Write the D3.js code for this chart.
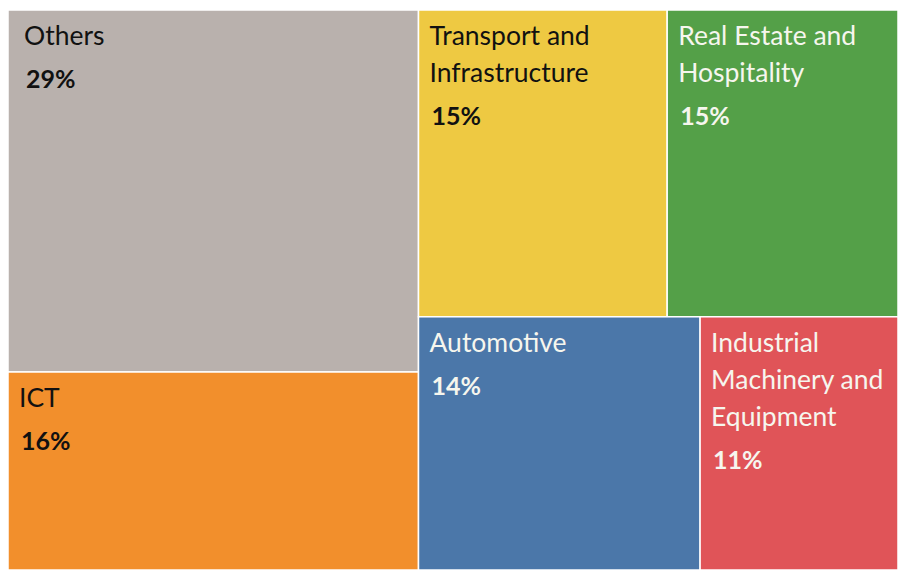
<!DOCTYPE html>
<html>
<head>
<meta charset="utf-8">
<script src="https://cdn.jsdelivr.net/npm/d3@7"></script>
<style>
  body { margin: 0; background: #fff; }
  svg { display: block; font-family: Lato, "Open Sans", sans-serif; }
</style>
</head>
<body>
<svg id="chart" width="899" height="570"></svg>
<script>
// sectors, estimated tile areas (share of total) and printed labels
var sectors = ['Others', 'ICT', 'Transport and Infrastructure', 'Real Estate and Hospitality', 'Automotive', 'Industrial Machinery and Equipment'];
var areas = [29.8, 16.3, 15.3, 14.2, 14.3, 10.05];
var pctLabels = ['29%', '16%', '15%', '15%', '14%', '11%'];
// how each name wraps inside its tile
var nameLines = [
  ['Others'],
  ['ICT'],
  ['Transport and', 'Infrastructure'],
  ['Real Estate and', 'Hospitality'],
  ['Automotive'],
  ['Industrial', 'Machinery and', 'Equipment']
];
// grouping of tiles: left column, right top row, right bottom row
var groups = [[0, 1], [[2, 3], [4, 5]]];

var colors = ['#b9b1ad', '#f28f2c', '#eec942', '#54a048', '#4b77a9', '#e05458'];
var textColors = ['#111', '#111', '#111', '#f6f6ee', '#f6f6ee', '#f6f6ee'];

var width = 890, height = 560, marginLeft = 8, marginTop = 10;

function node(g){
  if (Array.isArray(g)) return { children: g.map(node) };
  return { idx: g, value: areas[g] };
}

var root = d3.hierarchy(node(groups))
  .sum(function(d){ return d.value || 0 });

d3.treemap()
  .tile(d3.treemapSliceDice)
  .size([width, height])
  .round(false)(root);

var svg = d3.select('#chart');
var g = svg.append('g')
  .attr('transform', 'translate(' + marginLeft + ',' + marginTop + ')');

var leaf = g.selectAll('g.tile')
  .data(root.leaves())
  .enter().append('g')
  .attr('class', 'tile')
  .attr('transform', function(d){ return 'translate(' + d.x0 + ',' + d.y0 + ')' });

leaf.append('rect')
  .attr('width', function(d){ return d.x1 - d.x0 })
  .attr('height', function(d){ return d.y1 - d.y0 })
  .attr('fill', function(d){ return colors[d.data.idx] })
  .attr('stroke', '#fff')
  .attr('stroke-width', 1.5);

leaf.each(function(d){
  var i = d.data.idx;
  var sel = d3.select(this);
  var lines = nameLines[i];
  // the big top-left tile has its label set a bit further in
  var pad = i === 0 ? 16 : 11;
  lines.forEach(function(t, k){
    sel.append('text')
      .attr('x', pad)
      .attr('y', 35 + k * 37)
      .attr('fill', textColors[i])
      .style('font-size', '26.5px')
      .text(t);
  });
  sel.append('text')
    .attr('x', pad + 2)
    .attr('y', 35 + (lines.length - 1) * 37 + 43)
    .attr('fill', textColors[i])
    .style('font-size', '25px')
    .style('font-weight', 'bold')
    .text(pctLabels[i]);
});
</script>
</body>
</html>
